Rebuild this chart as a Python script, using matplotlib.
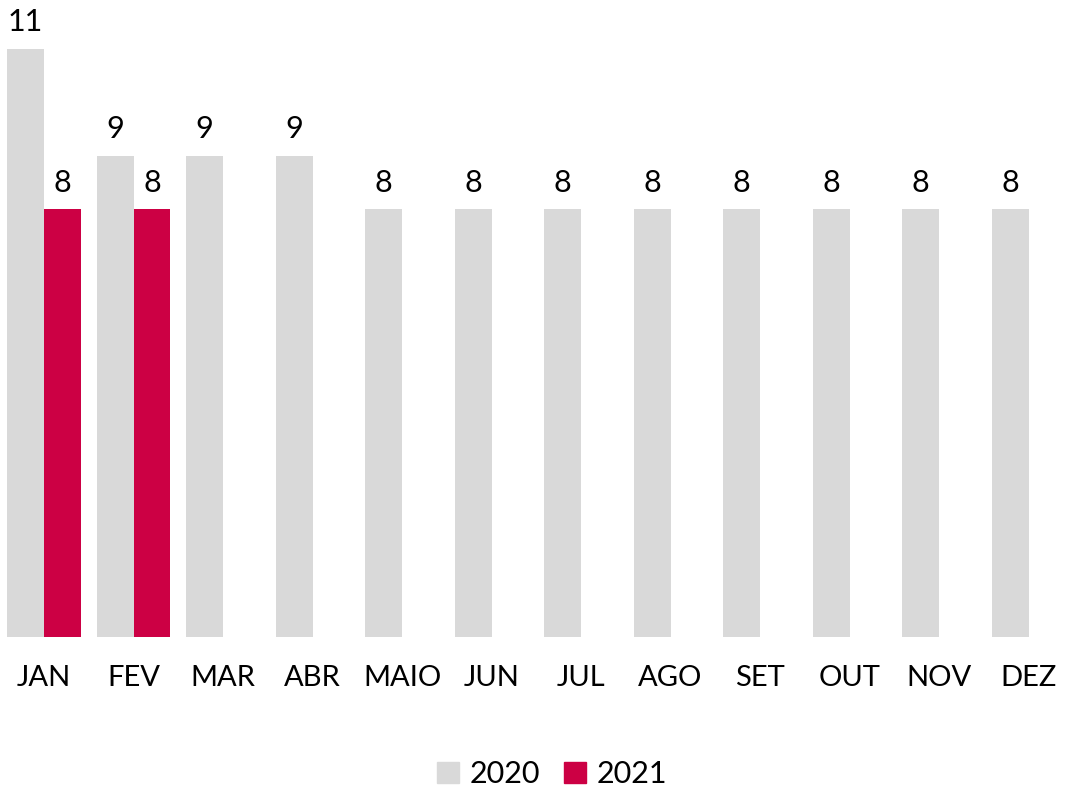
import matplotlib.pyplot as plt
from matplotlib.patches import Patch
import numpy as np

# data
months = ["JAN", "FEV", "MAR", "ABR", "MAIO", "JUN", "JUL", "AGO", "SET", "OUT", "NOV", "DEZ"]
vals_2020 = [11, 9, 9, 9, 8, 8, 8, 8, 8, 8, 8, 8]
vals_2021 = [8, 8]

grey = "#d9d9d9"
red = "#cc0044"

plt.rcParams['font.family'] = ['Lato', 'DejaVu Sans']

fig = plt.figure(figsize=(10.65, 7.87), dpi=100)
ax = fig.add_axes([0, 150 / 787, 1, 637 / 787])

x = np.arange(len(months))
w = 0.413

b1 = ax.bar(x - w / 2, vals_2020, width=w, color=grey)
b2 = ax.bar(x[:len(vals_2021)] + w / 2, vals_2021, width=w, color=red)

for bars in (b1, b2):
    ax.bar_label(bars, padding=9, fontsize=22, color="black")

ax.set_xlim(-44 / 89.5, 1021 / 89.5)
ax.set_ylim(0, 637 / 53.5)
ax.set_xticks(x)
ax.set_xticklabels(months, fontsize=21)
ax.tick_params(axis="x", length=0, pad=20)
ax.set_yticks([])
for s in ax.spines.values():
    s.set_visible(False)

handles = [Patch(color=grey, label="2020"), Patch(color=red, label="2021")]
fig.legend(handles=handles, loc="center", bbox_to_anchor=(552 / 1065, 1 - 774 / 787),
           ncol=2, frameon=False, fontsize=22, handlelength=0.7, handleheight=0.7,
           handletextpad=0.35, columnspacing=0.8)

fig.savefig("out.png", dpi=100)
